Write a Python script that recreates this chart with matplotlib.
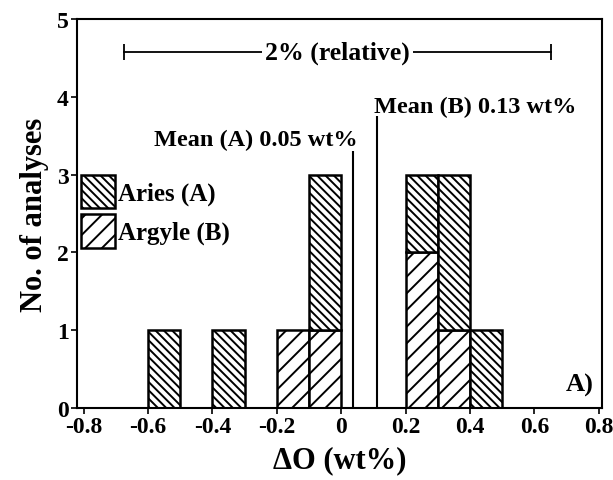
import matplotlib
matplotlib.use("Agg")
import matplotlib.pyplot as plt
import numpy as np

# histogram bins (width 0.1 wt%), centres of each bin
bin_centres = [-0.55, -0.45, -0.35, -0.25, -0.15, -0.05, 0.05, 0.15, 0.25, 0.35, 0.45]
argyle_counts = [0, 0, 0, 0, 1, 1, 0, 0, 2, 1, 0]
aries_counts = [1, 0, 1, 0, 0, 2, 0, 0, 1, 2, 1]
bin_width = 0.1

# mean lines as drawn: (x, top of line)
mean_a_x, mean_a_top = 0.037, 3.31
mean_b_x, mean_b_top = 0.112, 3.75

# "2% (relative)" span
span_x = [-0.674, 0.652]
span_y = 4.58

xticks = [-0.8, -0.6, -0.4, -0.2, 0, 0.2, 0.4, 0.6, 0.8]
xtick_labels = ["-0.8", "-0.6", "-0.4", "-0.2", "0", "0.2", "0.4", "0.6", "0.8"]
yticks = [0, 1, 2, 3, 4, 5]

plt.rcParams["font.family"] = ["Liberation Serif", "DejaVu Serif"]
plt.rcParams["font.weight"] = "bold"
plt.rcParams["hatch.linewidth"] = 1.4

fig = plt.figure(figsize=(6.13, 4.81), dpi=100)
ax = fig.add_axes([0.126, 0.150, 0.856, 0.808])

x = np.array(bin_centres)
b = np.array(argyle_counts, dtype=float)
a = np.array(aries_counts, dtype=float)

mb = b > 0
ax.bar(x[mb], b[mb], width=bin_width, facecolor="white", edgecolor="black",
       linewidth=1.8, hatch="//", label="Argyle (B)", zorder=2)
ma = a > 0
ax.bar(x[ma], a[ma], bottom=b[ma], width=bin_width, facecolor="white",
       edgecolor="black", linewidth=1.8, hatch="\\\\\\\\", label="Aries (A)", zorder=2)

ax.vlines([mean_a_x], 0, mean_a_top, color="black", linewidth=1.5, zorder=3)
ax.vlines([mean_b_x], 0, mean_b_top, color="black", linewidth=1.5, zorder=3)
ax.text(0.05, mean_a_top + 0.07, "Mean (A) 0.05 wt%", ha="right",
        va="baseline", fontsize=17.5, fontweight="bold")
ax.text(0.102, mean_b_top + 0.06, "Mean (B) 0.13 wt%", ha="left",
        va="baseline", fontsize=17.5, fontweight="bold")

# relative span bar with end caps
ax.plot(span_x, [span_y, span_y], color="black", linewidth=1.3, zorder=3)
ax.vlines(span_x, span_y - 0.1, span_y + 0.1, color="black", linewidth=1.3, zorder=3)
ax.text(sum(span_x) / 2, span_y, "2% (relative)", ha="center", va="center",
        fontsize=18.5, fontweight="bold", zorder=4,
        bbox=dict(facecolor="white", edgecolor="none", pad=2))

ax.text(0.985, 0.03, "A)", transform=ax.transAxes, ha="right", va="bottom",
        fontsize=19, fontweight="bold")

ax.set_xlim(-0.82, 0.81)
ax.set_ylim(0, 5)
ax.set_xticks(xticks)
ax.set_xticklabels(xtick_labels)
ax.set_yticks(yticks)
ax.tick_params(direction="out", length=4, width=1.2, labelsize=17, pad=2)
for s in ax.spines.values():
    s.set_linewidth(1.5)
ax.set_xlabel("ΔO (wt%)", fontsize=22, fontweight="bold", labelpad=6)
ax.set_ylabel("No. of analyses", fontsize=22, fontweight="bold", labelpad=6)

h, l = ax.get_legend_handles_labels()
ax.legend(h[::-1], l[::-1], loc="upper left", bbox_to_anchor=(0.008, 0.600),
          borderaxespad=0, borderpad=0, frameon=False, fontsize=18,
          handlelength=1.35, handleheight=1.7, handletextpad=0.1,
          labelspacing=0.22)

fig.savefig("out.png", dpi=100)
